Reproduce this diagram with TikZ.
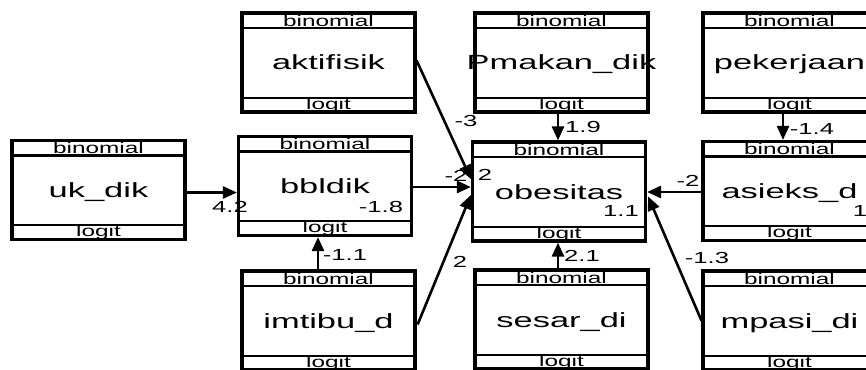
\documentclass[tikz,border=0pt]{standalone}
\usepackage{fontspec}
\setmainfont{Liberation Sans}
\usepackage{graphicx}
\usetikzlibrary{arrows.meta,calc}
\newcommand\hsc[1]{\scalebox{1.57}[1]{#1}}
\newcommand\msc[1]{\scalebox{1.68}[1]{#1}}
\newcommand\esc[1]{\scalebox{1.6}[1]{#1}}
\newcommand\mkvarbox[4]{%
  \node[bx] (#1) at (#2,#3) {};
  \draw[div] ($(#1.north west)+(0,16.5)$) -- ($(#1.north east)+(0,16.5)$);
  \draw[div] ($(#1.south west)+(0,-16)$) -- ($(#1.south east)+(0,-16)$);
  \node[hdr,anchor=base] (#1-h) at ($(#1.north)+(0,15)$) {\hsc{binomial}};
  \node[hdr,anchor=base] (#1-f) at ($(#1.south)+(0,-4.5)$) {\hsc{logit}};
  \node[mainlbl,anchor=base] (#1-t) at ($(#1.center)+(0,7.5)$) {\msc{#4}};
}
\tikzset{
  bx/.style={draw, line width=3.2pt, minimum width=173pt, minimum height=99pt, inner sep=0pt, fill=white},
  div/.style={line width=2.2pt},
  hdr/.style={inner sep=0pt, font=\fontsize{15.5}{16}\selectfont},
  mainlbl/.style={inner sep=0pt, font=\fontsize{20.5}{22}\selectfont},
  elbl/.style={inner sep=0pt, font=\fontsize{16}{17}\selectfont},
  arr/.style={line width=2.6pt, -{Triangle[length=14pt,width=12pt]}},
}
\begin{document}
\begin{tikzpicture}[x=1pt,y=-1pt]
\useasboundingbox (0,0) rectangle (866,369);
\clip (0,0) rectangle (866,369);
\fill[white] (0,0) rectangle (866,369);
% boxes
\mkvarbox{uk}{98.5}{190}{uk\_dik}
\mkvarbox{akt}{328.5}{62.5}{aktifisik}
\mkvarbox{pmk}{561.5}{62.5}{Pmakan\_dik}
\mkvarbox{pek}{789.5}{62.5}{pekerjaan}
\mkvarbox{bbl}{325}{186}{bbldik}
\mkvarbox{obe}{559}{191.5}{obesitas}
\mkvarbox{asi}{789.5}{191}{asieks\_d}
\mkvarbox{imt}{328.5}{320.5}{imtibu\_d}
\mkvarbox{ses}{561.5}{319.5}{sesar\_di}
\mkvarbox{mpa}{789.5}{320.5}{mpasi\_di}
% connectors
\draw[arr] ($(uk.east)+(0,2.5)$) -- ($(bbl.west)+(0,6.5)$);
\draw[arr] ($(bbl.east)+(0,1)$) -- ($(obe.west)+(0,-4.5)$);
\draw[arr] ($(akt.east)+(0,-2)$) -- ($(obe.west)+(0,-12.5)$);
\draw[arr] ($(imt.east)+(1,4)$) -- ($(obe.west)+(0,3.5)$);
\draw[arr] ($(pmk.south)+(-3.5,0)$) -- ($(obe.north)+(-1,0)$);
\draw[arr] ($(pek.south)+(-6.5,0)$) -- ($(asi.north)+(-6.5,0)$);
\draw[arr] ($(imt.north)+(-10.5,0)$) -- ($(bbl.south)+(-7,0)$);
\draw[arr] ($(ses.north)+(-3.5,0)$) -- ($(obe.south)+(-1,0)$);
\draw[arr] ($(asi.west)+(0,1)$) -- ($(obe.east)+(0,0.5)$);
\draw[arr] ($(mpa.west)+(0,0)$) -- ($(obe.east)+(1,5)$);
% labels
\node[elbl] (l1) at (230,207) {\esc{4.2}};
\node[elbl] (l2) at (381,207) {\esc{-1.8}};
\node[elbl] (l3) at (466,121) {\esc{-3}};
\node[elbl] (l4) at (456,176) {\esc{-2}};
\node[elbl] (l5) at (485,175) {\esc{2}};
\node[elbl] (l6) at (583,127) {\esc{1.9}};
\node[elbl] (l7) at (812,129) {\esc{-1.4}};
\node[elbl] (l8) at (345,255) {\esc{-1.1}};
\node[elbl] (l9) at (460,262) {\esc{2}};
\node[elbl] (l10) at (582,256) {\esc{2.1}};
\node[elbl] (l11) at (688,181) {\esc{-2}};
\node[elbl] (l12) at (621,211) {\esc{1.1}};
\node[elbl] (l13) at (860,211) {\esc{1}};
\node[elbl] (l14) at (707,258) {\esc{-1.3}};
\end{tikzpicture}
\end{document}
